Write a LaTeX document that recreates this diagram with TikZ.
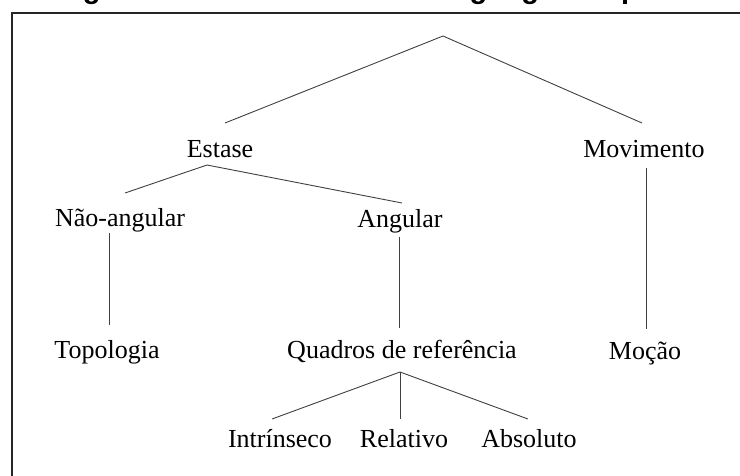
\documentclass[tikz,border=0pt]{standalone}
\usepackage{fontspec}
\setmainfont{Liberation Serif}
\newfontfamily\titlefont{Liberation Sans}
\begin{document}
\begin{tikzpicture}[x=1pt,y=-1pt,
  lbl/.style={anchor=base,inner sep=0pt,font=\fontsize{26}{30}\selectfont},
  edge/.style={line width=0.9pt,draw=black!75},
  frame/.style={line width=2pt,draw=black!85}]
\useasboundingbox (0,0) rectangle (740,475);
\clip (0,0) rectangle (740,475);
% title, cut off at the top edge (only descenders visible)
\node[anchor=base west,inner sep=0pt,font=\titlefont\bfseries\fontsize{29}{32}\selectfont] (title) at (57,-1.5) {Figura 2 – Subdomínios da linguagem espacial};
% frame
\draw[frame] (12,500) -- (12,13) -- (760,13);
% labels
\node[lbl] (estase) at (220,157) {Estase};
\node[lbl] (movimento) at (644,157) {Movimento};
\node[lbl] (nao) at (120,226) {Não-angular};
\node[lbl] (angular) at (400,227) {Angular};
\node[lbl] (topo) at (107,358) {Topologia};
\node[lbl] (quadros) at (402,358) {Quadros de referência};
\node[lbl] (mocao) at (645,359) {Moção};
\node[lbl] (intr) at (280,447) {Intrínseco};
\node[lbl] (rel) at (404,447) {Relativo};
\node[lbl] (abs) at (529,447) {Absoluto};
% junction coordinates
\coordinate (root) at (443,36);
\coordinate (estTop) at (225,123);
\coordinate (movTop) at (642,123);
\coordinate (estBot) at (207,165);
\coordinate (naoTop) at (125,193);
\coordinate (angTop) at (402,203);
\coordinate (naoBot) at (109,233);
\coordinate (topoTop) at (109,325);
\coordinate (angBot) at (399,237);
\coordinate (quadTop) at (399,328);
\coordinate (movBot) at (646,168);
\coordinate (mocTop) at (646,329);
\coordinate (quadBot) at (400,372);
\coordinate (intrTop) at (272,419);
\coordinate (relTop) at (400,419);
\coordinate (absTop) at (528,419);
% connectors
\draw[edge] (estTop) -- (root) -- (movTop);
\draw[edge] (naoTop) -- (estBot) -- (angTop);
\draw[edge] (naoBot) -- (topoTop);
\draw[edge] (angBot) -- (quadTop);
\draw[edge] (movBot) -- (mocTop);
\draw[edge] (intrTop) -- (quadBot) -- (absTop);
\draw[edge] (quadBot) -- (relTop);
\end{tikzpicture}
\end{document}
